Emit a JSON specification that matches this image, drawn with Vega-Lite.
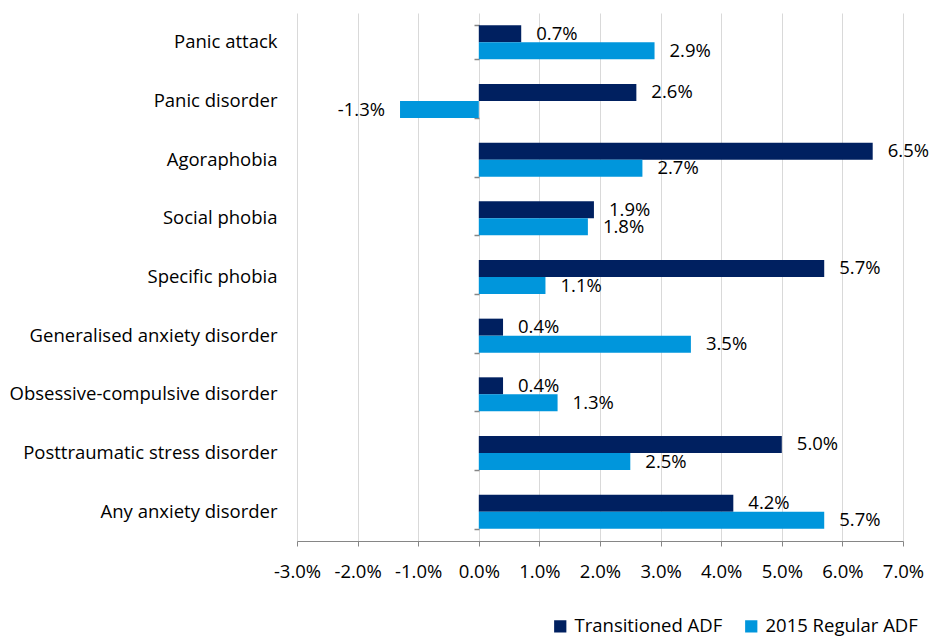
{
  "$schema": "https://vega.github.io/schema/vega-lite/v6.json",
  "autosize": {"type": "none"},
  "padding": {"left": 297, "top": 13, "right": 29, "bottom": 96},
  "width": 606,
  "height": 528,
  "background": "white",
  "config": {
    "font": "Open Sans",
    "view": {"stroke": null},
    "axis": {"labelFont": "Open Sans", "labelFontSize": 18.5, "labelColor": "#000000"},
    "legend": {"labelFont": "Open Sans", "labelFontSize": 18.5, "labelColor": "#000000"}
  },
  "data": {
    "values": [
      {"category": "Panic attack", "series": "Transitioned ADF", "value": 0.7},
      {"category": "Panic attack", "series": "2015 Regular ADF", "value": 2.9},
      {"category": "Panic disorder", "series": "Transitioned ADF", "value": 2.6},
      {"category": "Panic disorder", "series": "2015 Regular ADF", "value": -1.3},
      {"category": "Agoraphobia", "series": "Transitioned ADF", "value": 6.5},
      {"category": "Agoraphobia", "series": "2015 Regular ADF", "value": 2.7},
      {"category": "Social phobia", "series": "Transitioned ADF", "value": 1.9},
      {"category": "Social phobia", "series": "2015 Regular ADF", "value": 1.8},
      {"category": "Specific phobia", "series": "Transitioned ADF", "value": 5.7},
      {"category": "Specific phobia", "series": "2015 Regular ADF", "value": 1.1},
      {"category": "Generalised anxiety disorder", "series": "Transitioned ADF", "value": 0.4},
      {"category": "Generalised anxiety disorder", "series": "2015 Regular ADF", "value": 3.5},
      {"category": "Obsessive-compulsive disorder", "series": "Transitioned ADF", "value": 0.4},
      {"category": "Obsessive-compulsive disorder", "series": "2015 Regular ADF", "value": 1.3},
      {"category": "Posttraumatic stress disorder", "series": "Transitioned ADF", "value": 5.0},
      {"category": "Posttraumatic stress disorder", "series": "2015 Regular ADF", "value": 2.5},
      {"category": "Any anxiety disorder", "series": "Transitioned ADF", "value": 4.2},
      {"category": "Any anxiety disorder", "series": "2015 Regular ADF", "value": 5.7}
    ]
  },
  "transform": [
    {"calculate": "(datum.value < 0 ? '-' : '') + format(abs(datum.value), '.1f') + '%'", "as": "label"}
  ],
  "encoding": {
    "y": {
      "field": "category",
      "type": "nominal",
      "sort": null,
      "scale": {"paddingInner": 0.42, "paddingOuter": 0.21},
      "title": null,
      "axis": null
    },
    "yOffset": {
      "field": "series",
      "type": "nominal",
      "sort": ["Transitioned ADF", "2015 Regular ADF"]
    }
  },
  "layer": [
    {
      "mark": {"type": "bar"},
      "encoding": {
        "y": {
          "field": "category",
          "type": "nominal",
          "sort": null,
          "title": null,
          "axis": {"domain": false, "ticks": false, "labelPadding": 20, "labelLimit": 400}
        },
        "x": {
          "field": "value",
          "type": "quantitative",
          "scale": {"domain": [-3, 7], "nice": false},
          "title": null,
          "axis": {
            "values": [-3, -2, -1, 0, 1, 2, 3, 4, 5, 6, 7],
            "labelExpr": "(datum.value < 0 ? '-' : '') + format(abs(datum.value), '.1f') + '%'",
            "labelOverlap": false,
            "labelBound": false,
            "labelFlush": false,
            "grid": true,
            "gridColor": "#D9D9D9",
            "gridWidth": 1,
            "domainColor": "#868686",
            "tickColor": "#868686",
            "tickSize": 5,
            "labelPadding": 16
          }
        },
        "color": {
          "field": "series",
          "type": "nominal",
          "scale": {"domain": ["Transitioned ADF", "2015 Regular ADF"], "range": ["#002060", "#0096DC"]},
          "legend": {
            "title": null,
            "orient": "none",
            "legendX": 254,
            "legendY": 604,
            "direction": "horizontal",
            "symbolType": "square",
            "symbolSize": 150,
            "symbolStrokeWidth": 0,
            "columnPadding": 19,
            "labelOffset": 5
          }
        }
      }
    },
    {
      "transform": [{"filter": "datum.value >= 0"}],
      "mark": {"type": "text", "align": "left", "baseline": "middle", "dx": 15, "fontSize": 18.5, "color": "#000000"},
      "encoding": {
        "x": {"field": "value", "type": "quantitative"},
        "text": {"field": "label"}
      }
    },
    {
      "transform": [{"filter": "datum.value < 0"}],
      "mark": {"type": "text", "align": "right", "baseline": "middle", "dx": -15, "fontSize": 18.5, "color": "#000000"},
      "encoding": {
        "x": {"field": "value", "type": "quantitative"},
        "text": {"field": "label"}
      }
    },
    {
      "mark": {"type": "rule", "color": "#868686", "strokeWidth": 1.5},
      "encoding": {
        "x": {"datum": 0, "type": "quantitative"},
        "y": {
          "field": "category",
          "type": "nominal",
          "sort": null,
          "title": null,
          "axis": {
            "orient": "left",
            "offset": -182,
            "labels": false,
            "grid": false,
            "domain": false,
            "ticks": true,
            "tickBand": "extent",
            "tickSize": 5,
            "tickColor": "#868686",
            "tickWidth": 1.5
          }
        },
        "yOffset": null
      }
    }
  ],
  "resolve": {"axis": {"y": "independent"}}
}
